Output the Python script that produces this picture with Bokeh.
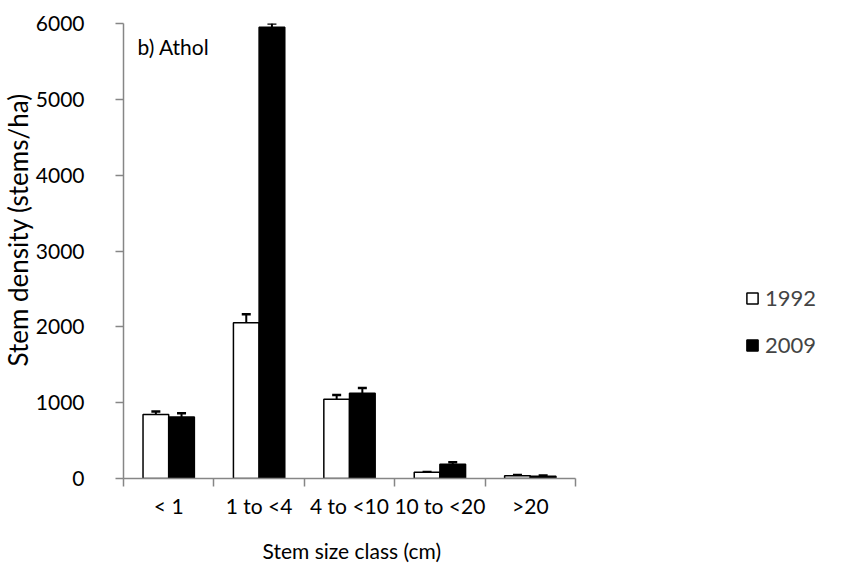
import math
from bokeh.plotting import figure
from bokeh.models import (Range1d, FixedTicker, SingleIntervalTicker, Whisker, TeeHead,
                          ColumnDataSource, Label, Legend, LegendItem, Title)
from bokeh.embed import file_html
from bokeh.resources import INLINE

categories = ["< 1", "1 to <4", "4 to <10", "10 to <20", ">20"]
years = ["1992", "2009"]
vals_1992 = [845, 2055, 1045, 82, 37]
err_1992 = [37, 110, 57, 5, 8]
vals_2009 = [812, 5950, 1125, 187, 29]
err_2009 = [50, 50, 70, 27, 10]

FONT = "Lato"
FS = "21px"
AX = "#868686"
W = 0.284
n = len(categories)
# the frame spans to the right edge so the legend can sit inside it; axis is bounded to the categories
x_end = n * (851 - 123) / (575 - 123)

p = figure(width=851, height=579, output_backend="svg", toolbar_location=None,
           x_range=Range1d(0, x_end), y_range=Range1d(0, 6000),
           min_border_left=123, min_border_right=0, min_border_top=23, min_border_bottom=101)
p.outline_line_color = None
p.xgrid.grid_line_color = None
p.ygrid.grid_line_color = None
p.background_fill_color = "white"
p.border_fill_color = "white"

centers = [i + 0.5 for i in range(n)]
x1 = [c - W / 2 for c in centers]
x2 = [c + W / 2 for c in centers]

s1 = ColumnDataSource(dict(x=x1, top=vals_1992, up=[v + e for v, e in zip(vals_1992, err_1992)]))
s2 = ColumnDataSource(dict(x=x2, top=vals_2009, up=[v + e for v, e in zip(vals_2009, err_2009)]))

r1 = p.vbar(x="x", top="top", width=W, source=s1, fill_color="white", line_color="black", line_width=1.5)
r2 = p.vbar(x="x", top="top", width=W, source=s2, fill_color="black", line_color="black", line_width=1.5)

for s in (s1, s2):
    wk = Whisker(base="x", lower="top", upper="up", source=s, line_color="black", line_width=2,
                 upper_head=TeeHead(size=9, line_color="black", line_width=2.5), lower_head=None)
    p.add_layout(wk)

# x axis
xa = p.xaxis[0]
xa.bounds = (0, n)
xa.ticker = FixedTicker(ticks=centers, minor_ticks=list(range(n + 1)))
xa.major_label_overrides = {c: lab for c, lab in zip(centers, categories)}
xa.major_tick_line_color = None
xa.minor_tick_in = 0
xa.minor_tick_out = 8
xa.minor_tick_line_color = AX
xa.minor_tick_line_width = 1.5
xa.axis_line_color = AX
xa.axis_line_width = 1.5
xa.major_label_text_font = FONT
xa.major_label_text_font_size = FS
xa.major_label_text_color = "black"
xa.major_label_standoff = 6

ya = p.yaxis[0]
ya.ticker = SingleIntervalTicker(interval=1000)
ya.minor_tick_line_color = None
ya.major_tick_in = 0
ya.major_tick_out = 8
ya.major_tick_line_color = AX
ya.major_tick_line_width = 1.5
ya.axis_line_color = AX
ya.axis_line_width = 1.5
ya.major_label_text_font = FONT
ya.major_label_text_font_size = FS
ya.major_label_text_color = "black"
ya.major_label_standoff = 31

p.add_layout(Title(text="Stem density (stems/ha)", align="left", offset=112,
                   text_font=FONT, text_font_size="26px", text_font_style="normal",
                   text_color="black", standoff=-3), "left")

p.add_layout(Title(text="Stem size class (cm)", align="left", offset=139,
                   text_font=FONT, text_font_size=FS, text_font_style="normal",
                   text_color="black", standoff=30), "below")

p.add_layout(Label(x=14, y=445, x_units="screen", y_units="screen", text="b) Athol",
                   text_font=FONT, text_font_size=FS, text_baseline="top", text_color="black"))

legend = Legend(items=[LegendItem(label=years[0], renderers=[r1]),
                       LegendItem(label=years[1], renderers=[r2])],
                location=(622, 120), glyph_width=14, glyph_height=14, label_standoff=6,
                spacing=20, padding=0, margin=0, border_line_color=None,
                background_fill_alpha=0, label_text_font=FONT, label_text_font_size="22px")
p.add_layout(legend)

open("out.html", "w").write(file_html(p, INLINE))
